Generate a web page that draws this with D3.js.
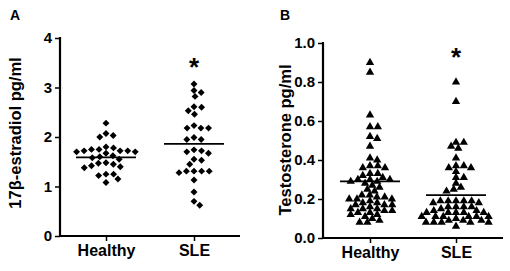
<!DOCTYPE html>
<html><head><meta charset="utf-8">
<script src="https://cdn.jsdelivr.net/npm/d3@7"></script>
<style>body{margin:0;background:#fff}svg{display:block}text{font-family:Arial,"Liberation Sans",sans-serif;font-weight:bold;fill:#000}</style>
</head><body>
<svg id="c" width="510" height="271"></svg>
<script>
const categories = ["Healthy", "SLE"];
const estradiolHealthy = [2.28, 2.07, 2.0, 2.03, 1.80, 1.78, 1.72, 1.70, 1.72, 1.75, 1.75, 1.70, 1.72, 1.67, 1.62, 1.58, 1.60, 1.55, 1.48, 1.45, 1.42, 1.47, 1.40, 1.38, 1.25, 1.22, 1.25, 1.15, 1.08];
const estradiolSLE = [3.07, 2.90, 2.94, 2.82, 2.60, 2.61, 2.46, 2.53, 2.23, 2.18, 2.18, 2.18, 1.95, 1.99, 1.95, 1.67, 1.74, 1.70, 1.72, 1.55, 1.53, 1.45, 1.31, 1.31, 1.31, 1.28, 1.31, 1.13, 0.89, 0.62, 0.70];
const estradiolMeans = [1.59, 1.86];
const testoHealthy = [0.90, 0.85, 0.63, 0.57, 0.57, 0.52, 0.51, 0.47, 0.41, 0.40, 0.37, 0.36, 0.36, 0.37, 0.33, 0.32, 0.31, 0.33, 0.30, 0.30, 0.29, 0.29, 0.28, 0.30, 0.27, 0.26, 0.25, 0.24, 0.22, 0.22, 0.21, 0.20, 0.20, 0.21, 0.20, 0.19, 0.18, 0.17, 0.17, 0.18, 0.16, 0.17, 0.15, 0.15, 0.14, 0.14, 0.15, 0.13, 0.12, 0.13, 0.12, 0.11, 0.10, 0.09, 0.08, 0.08];
const testoSLE = [0.80, 0.70, 0.49, 0.49, 0.47, 0.46, 0.41, 0.37, 0.37, 0.36, 0.36, 0.34, 0.31, 0.31, 0.28, 0.26, 0.25, 0.24, 0.19, 0.19, 0.18, 0.19, 0.19, 0.18, 0.19, 0.16, 0.16, 0.15, 0.16, 0.16, 0.13, 0.14, 0.13, 0.13, 0.14, 0.13, 0.13, 0.11, 0.11, 0.10, 0.11, 0.11, 0.11, 0.11, 0.08, 0.09, 0.08, 0.08, 0.09, 0.08, 0.08, 0.09, 0.06];
const testoMeans = [0.29, 0.22];
const estradiolTicks = [0, 1, 2, 3, 4];
const testoTicks = [0, 0.2, 0.4, 0.6, 0.8, 1.0];

const svg = d3.select("#c");

function swarm(vals, y, wx, wy) {
  const placed = [];
  const sorted = vals.map(v => ({v, py: y(v)})).sort((a, b) => a.py - b.py);
  sorted.forEach(p => {
    const cands = [0];
    placed.forEach(q => {
      const dy = Math.abs(q.py - p.py);
      if (dy < wy) {
        const dx = wx * Math.sqrt(1 - (dy / wy) ** 2);
        cands.push(q.dx + dx + 0.01, q.dx - dx - 0.01);
      }
    });
    cands.sort((a, b) => Math.abs(a) - Math.abs(b));
    for (const c of cands) {
      const ok = placed.every(q => ((q.dx - c) / wx) ** 2 + ((q.py - p.py) / wy) ** 2 >= 0.999);
      if (ok) { p.dx = c; break; }
    }
    placed.push(p);
  });
  return placed;
}

function panel(cfg) {
  const g = svg.append("g");
  const x = d3.scalePoint().domain(categories).range([cfg.x0 + cfg.pad, cfg.x1 - cfg.pad]).padding(0);
  const y = d3.scaleLinear().domain(cfg.domain).range([cfg.yBottom, cfg.yTop]);
  const ya = g.append("g").attr("transform", `translate(${cfg.x0},0)`)
    .call(d3.axisLeft(y).tickValues(cfg.ticks).tickFormat(cfg.fmt).tickSize(5).tickPadding(3));
  const xa = g.append("g").attr("transform", `translate(0,${cfg.yBottom})`)
    .call(d3.axisBottom(x).tickSize(5).tickPadding(4));
  [ya, xa].forEach(a => {
    a.select(".domain").remove();
    a.selectAll("line").attr("stroke", "#000").attr("stroke-width", 1.5);
    a.selectAll("text").style("font-size", "15px").style("font-family", "Arial, 'Liberation Sans', sans-serif").style("font-weight", "bold").attr("fill", "#000");
  });
  xa.selectAll("text").style("font-size", "16px");
  g.append("line").attr("x1", cfg.x0).attr("x2", cfg.x0).attr("y1", y(cfg.domain[1]) - 1).attr("y2", cfg.yBottom + 1)
    .attr("stroke", "#000").attr("stroke-width", 2.2);
  g.append("line").attr("x1", cfg.x0 - 1).attr("x2", cfg.x1).attr("y1", cfg.yBottom).attr("y2", cfg.yBottom)
    .attr("stroke", "#000").attr("stroke-width", 2.2);

  cfg.series.forEach((vals, i) => {
    const cx = x(categories[i]);
    const pts = swarm(vals, y, cfg.wx, cfg.wy);
    const sym = d3.symbol().type(cfg.symbol).size(cfg.symSize);
    g.append("g").selectAll("path").data(pts).join("path")
      .attr("d", sym)
      .attr("transform", d => `translate(${cx + d.dx},${d.py})${cfg.rot}`)
      .attr("fill", "#000");
    g.append("line").attr("x1", cx - cfg.meanHalf).attr("x2", cx + cfg.meanHalf)
      .attr("y1", y(cfg.means[i])).attr("y2", y(cfg.means[i]))
      .attr("stroke", "#000").attr("stroke-width", 1.8);
  });
  g.append("text").attr("x", x("SLE")).attr("y", cfg.starY).attr("text-anchor", "middle")
    .style("font-size", "26px").text("*");
  g.append("text").attr("transform", `translate(${cfg.titleX},${cfg.titleY}) rotate(-90)`)
    .attr("text-anchor", "middle").style("font-size", "16.5px").text(cfg.title);
  g.append("text").attr("x", cfg.letterX).attr("y", 20).style("font-size", "14px").text(cfg.letter);
}

panel({
  x0: 60, x1: 240, pad: 46, yTop: 38, yBottom: 236, domain: [0, 4], ticks: estradiolTicks,
  fmt: d3.format("d"), series: [estradiolHealthy, estradiolSLE], means: estradiolMeans,
  symbol: d3.symbolSquare, symSize: 24, rot: " rotate(45)", wx: 7.6, wy: 6, meanHalf: 30,
  starY: 76, title: "17β-estradiol pg/ml", titleX: 21, titleY: 133, letter: "A", letterX: 10
});
panel({
  x0: 323, x1: 503, pad: 47, yTop: 43, yBottom: 238, domain: [0, 1.0], ticks: testoTicks,
  fmt: d3.format(".1f"), series: [testoHealthy, testoSLE], means: testoMeans,
  symbol: d3.symbolTriangle, symSize: 30, rot: "", wx: 7.8, wy: 5, meanHalf: 30,
  starY: 66, title: "Testosterone pg/ml", titleX: 291, titleY: 140, letter: "B", letterX: 280
});
</script>
</body></html>
